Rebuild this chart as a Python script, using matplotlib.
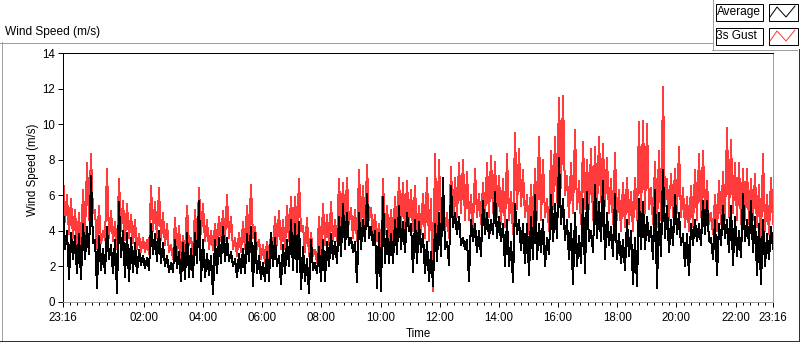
import numpy as np
import pandas as pd
import matplotlib
matplotlib.use("Agg")
import matplotlib.pyplot as plt
import matplotlib.dates as mdates
from matplotlib.patches import Rectangle

plt.rcParams['font.family'] = ['Liberation Sans', 'DejaVu Sans']

# wind speed envelope, one high/low pair per ~8 minutes (m/s)
gust_hi = [7.2, 6.0, 5.8, 5.2, 5.0, 6.3, 7.8, 8.3, 5.2, 5.4, 4.0, 7.5, 5.1, 4.5, 6.9, 5.7, 5.5, 4.9, 4.6, 3.8,
           3.6, 3.5, 6.5, 5.6, 6.4, 5.0, 4.4, 3.2, 4.7, 4.3,
           3.7, 5.4, 3.6, 5.2, 6.4, 5.5, 4.6, 4.0, 4.4, 4.8, 5.1, 6.0, 4.8, 3.6, 3.9, 4.5, 5.4, 6.6, 4.2, 3.5,
           3.2, 3.4, 3.9, 4.8, 5.1, 4.6, 5.4, 5.9,
           5.9, 6.9, 4.3, 4.7, 3.9, 2.9, 4.8, 5.5, 4.9, 5.6, 4.6, 6.9, 6.7, 7.0, 5.3, 5.2, 7.4, 6.5, 7.7, 5.3,
           4.9, 4.4, 6.9, 5.4, 5.2, 5.9, 7.0, 6.7, 6.8,
           6.3, 6.5, 5.4, 6.1, 7.0, 5.8, 8.3, 8.0, 6.4, 5.0, 7.6, 7.0, 7.8, 8.0, 7.3, 6.0, 7.5, 6.1, 6.7, 7.8,
           8.2, 7.9, 7.1, 6.9, 8.3, 6.2, 9.5, 8.6, 7.4,
           6.0, 6.6, 7.5, 9.3, 8.0, 5.8, 8.5, 9.3, 11.5, 11.6, 7.1, 7.8, 9.7, 6.8, 9.0, 8.0, 8.6, 8.7, 9.3, 8.9,
           8.1, 6.9, 8.4, 6.3, 6.7, 7.0, 6.2, 7.0, 10.1,
           10.2, 10.0, 6.4, 7.9, 8.5, 12.1, 6.9, 7.2, 7.5, 8.7, 6.4, 5.9, 6.5, 7.4, 8.3, 8.5, 6.8, 5.0, 6.0, 6.8,
           7.3, 9.8, 9.1, 7.8, 7.8, 7.5, 7.5, 6.9, 7.2, 6.6, 8.3, 6.0, 7.0]
gust_lo = [4.5, 3.8, 3.6, 3.2, 3.0, 3.8, 4.6, 5.0, 3.0, 3.3, 3.5, 3.6, 3.4, 3.0, 4.0, 3.5, 3.6, 3.3, 3.0, 2.8,
           2.8, 2.7, 4.0, 3.6, 3.5, 3.2, 2.8, 2.4, 2.6, 2.4,
           2.8, 3.2, 2.7, 3.2, 3.8, 3.4, 3.0, 2.9, 3.2, 3.4, 3.4, 3.6, 3.0, 2.6, 2.8, 3.0, 3.4, 3.6, 3.0, 2.4,
           2.2, 2.4, 2.8, 3.2, 3.0, 3.0, 3.4, 3.5,
           3.8, 4.0, 2.8, 2.6, 2.6, 2.2, 2.6, 3.2, 3.2, 3.4, 3.4, 4.2, 4.0, 4.4, 3.6, 3.4, 4.2, 4.0, 4.6, 3.8,
           3.4, 3.0, 3.8, 3.4, 3.4, 3.8, 4.2, 4.0, 4.2,
           4.0, 3.8, 3.8, 3.6, 3.4, 0.6, 3.0, 4.2, 4.0, 3.6, 4.4, 4.8, 5.0, 4.6, 4.6, 4.2, 4.8, 4.4, 4.6, 4.8,
           5.0, 4.8, 4.4, 4.2, 4.6, 3.8, 5.2, 5.4, 4.8,
           3.8, 4.0, 4.6, 4.6, 4.8, 4.0, 5.2, 5.6, 6.4, 6.0, 4.8, 5.0, 5.2, 4.4, 5.2, 5.2, 4.6, 5.0, 5.6, 5.4,
           5.0, 4.4, 4.6, 4.0, 4.2, 4.4, 4.0, 4.6, 4.8,
           5.0, 5.2, 4.4, 4.2, 4.6, 5.4, 4.6, 4.8, 5.0, 4.8, 4.2, 4.0, 4.2, 4.6, 4.8, 5.0, 4.4, 3.8, 4.0, 4.4,
           4.6, 4.8, 5.0, 4.6, 4.4, 4.6, 4.4, 4.6, 4.2, 3.6, 4.0, 3.8, 4.4]
avg_hi = [5.4, 4.0, 3.9, 3.7, 3.8, 4.4, 4.2, 7.1, 3.5, 3.7, 3.0, 4.2, 3.2, 3.5, 5.6, 4.0, 3.9, 3.6, 3.3, 2.9,
          2.6, 2.5, 4.4, 3.8, 4.0, 3.3, 2.6, 2.2, 3.5, 2.8,
          3.3, 3.9, 3.0, 3.9, 5.7, 3.5, 2.7, 2.6, 3.5, 3.6, 4.2, 3.6, 2.8, 2.4, 2.7, 3.0, 3.8, 4.2, 3.9, 2.6,
          2.2, 2.8, 3.9, 3.6, 2.6, 3.2, 3.5, 4.6,
          4.4, 4.5, 3.1, 2.4, 3.5, 2.2, 3.1, 3.5, 3.4, 3.8, 3.4, 4.8, 5.5, 5.0, 3.6, 3.4, 5.0, 4.6, 6.1, 4.2,
          4.0, 3.9, 5.9, 4.0, 3.8, 4.6, 5.4, 4.5, 5.0,
          4.4, 4.6, 4.5, 3.8, 3.4, 2.8, 4.4, 5.0, 7.0, 3.4, 6.5, 5.0, 4.8, 3.6, 3.5, 4.6, 4.4, 4.0, 5.7, 5.0,
          4.6, 6.2, 4.8, 4.4, 4.6, 3.4, 5.5, 4.6, 4.4,
          4.4, 4.8, 6.0, 4.4, 4.6, 3.6, 6.0, 5.5, 8.1, 5.8, 4.6, 4.4, 5.0, 3.7, 5.8, 6.2, 4.0, 6.6, 5.6, 6.8,
          5.0, 4.2, 6.1, 3.8, 3.5, 4.6, 4.0, 3.6, 5.8,
          5.6, 4.8, 4.2, 6.3, 5.0, 7.4, 5.4, 4.6, 6.0, 5.0, 3.8, 3.8, 4.4, 4.6, 4.4, 5.7, 5.7, 3.6, 4.6, 4.4,
          5.4, 4.6, 5.4, 4.8, 4.0, 6.1, 4.6, 5.7, 4.8, 4.4, 4.6, 3.8, 4.2]
avg_lo = [3.0, 1.3, 2.4, 1.6, 1.3, 2.4, 2.7, 3.3, 0.8, 1.8, 1.6, 2.4, 1.6, 0.5, 2.5, 1.4, 1.2, 1.7, 1.6, 2.1,
          1.9, 1.8, 2.7, 2.3, 2.2, 2.0, 1.7, 1.7, 1.9, 1.2,
          1.3, 1.4, 1.4, 2.2, 1.2, 1.4, 1.5, 0.45, 1.6, 2.2, 2.3, 2.3, 2.0, 1.4, 1.6, 1.6, 2.3, 0.9, 1.6, 1.3,
          1.2, 1.2, 2.0, 2.0, 1.0, 1.6, 2.0, 1.8,
          1.7, 0.7, 1.2, 0.5, 1.8, 1.6, 1.2, 1.2, 2.0, 2.4, 2.2, 2.6, 3.0, 3.2, 2.8, 1.1, 3.0, 3.4, 3.6, 3.2,
          0.8, 0.6, 2.2, 2.2, 2.2, 2.7, 3.0, 2.8, 4.0,
          1.7, 2.2, 2.8, 1.6, 1.2, 0.9, 2.3, 2.6, 3.0, 2.1, 4.2, 3.8, 3.2, 3.0, 1.2, 3.4, 2.8, 2.6, 3.8, 3.6,
          3.8, 3.6, 3.4, 2.0, 2.0, 1.1, 3.8, 2.9, 2.2,
          1.5, 2.4, 2.4, 2.8, 2.0, 2.7, 3.4, 3.6, 4.4, 3.5, 2.4, 1.0, 2.0, 2.2, 1.6, 3.4, 2.8, 3.6, 3.4, 2.4,
          3.2, 2.6, 2.4, 2.2, 1.8, 2.6, 1.0, 0.9, 3.0,
          3.0, 3.4, 2.4, 0.8, 2.6, 3.6, 2.8, 3.2, 3.8, 3.2, 2.0, 1.5, 3.2, 3.4, 3.2, 3.8, 3.4, 2.4, 1.5, 3.2,
          3.6, 2.8, 2.1, 2.6, 2.5, 3.4, 3.2, 2.8, 1.5, 1.0, 2.0, 2.4, 3.0]

start = pd.Timestamp('2000-01-01 23:16')
end = pd.Timestamp('2000-01-02 23:16')
hour_labels = ['02:00', '04:00', '06:00', '08:00', '10:00', '12:00', '14:00', '16:00', '18:00', '20:00', '22:00']

gust = np.column_stack([gust_hi, gust_lo]).ravel()
avg = np.column_stack([avg_hi, avg_lo]).ravel()
t_gust = pd.date_range(start, end, periods=len(gust))
t_avg = pd.date_range(start, end, periods=len(avg))

fig = plt.figure(figsize=(8, 3.42), dpi=100)
fig.patch.set_facecolor('white')

# frame / header / legend drawn in pixel coords
deco = fig.add_axes([0, 0, 1, 1])
deco.set_xlim(0, 800)
deco.set_ylim(342, 0)
deco.axis('off')
gray = '#a0a0a0'
px = 0.72  # one pixel
deco.plot([0, 712], [42.5, 42.5], color=gray, lw=px, antialiased=False)
deco.plot([712.5, 712.5], [0, 49], color=gray, lw=px, antialiased=False)
deco.plot([712, 797], [49.5, 49.5], color=gray, lw=px, antialiased=False)
deco.plot([1.5, 1.5], [42, 340], color=gray, lw=px, antialiased=False)
deco.plot([0, 800], [340.5, 340.5], color='#303030', lw=px, antialiased=False)
deco.plot([798.5, 798.5], [49, 340], color='#303030', lw=px, antialiased=False)
deco.text(5, 32, 'Wind Speed (m/s)', fontsize=8.6, va='center', ha='left')

for y0, name, col in [(3, 'Average', 'black'), (27, '3s Gust', '#ff3b3b')]:
    deco.add_patch(Rectangle((715.5, y0 + 0.5), 47, 17, fc='white', ec='black', lw=px))
    deco.add_patch(Rectangle((768.5, y0 + 0.5), 29, 17, fc='white', ec='black', lw=px))
    deco.text(716.5, y0 + 9, name, fontsize=8.6, va='center', ha='left')
    deco.plot([770, 777, 786, 795], [y0 + 14, y0 + 4, y0 + 14, y0 + 3], color=col, lw=px)

ax = fig.add_axes([63 / 800, 40 / 342, 710 / 800, 249 / 342])
ax.plot(t_gust, gust, color='#ff3b3b', lw=px, antialiased=False)
ax.plot(t_avg, avg, color='black', lw=px, antialiased=False)

ax.set_ylim(0, 14)
ax.set_yticks(range(0, 15, 2))
ax.set_xlim(start, end)
major = [start] + [pd.Timestamp('2000-01-02 ' + h) for h in hour_labels] + [end]
ax.set_xticks(major)
ax.xaxis.set_major_formatter(mdates.DateFormatter('%H:%M'))
ax.xaxis.set_minor_locator(mdates.MinuteLocator(byminute=[0, 15, 30, 45]))

ax.tick_params(axis='both', which='major', labelsize=8.3, length=3.5, width=px, color='black')
ax.tick_params(axis='x', which='major', pad=4)
ax.tick_params(axis='x', which='minor', length=2.2, width=px)
ax.tick_params(axis='y', pad=2)

for side in ['left', 'top']:
    ax.spines[side].set_color('black')
for side in ['right', 'bottom']:
    ax.spines[side].set_color(gray)
for s in ax.spines.values():
    s.set_linewidth(px)

ax.set_ylabel('Wind Speed (m/s)', fontsize=8.3)
ax.yaxis.set_label_coords(-0.034, 0.53)
ax.set_xlabel('Time', fontsize=8.3)
ax.xaxis.set_label_coords(0.5, -0.105)

fig.savefig('out.png', dpi=100)
